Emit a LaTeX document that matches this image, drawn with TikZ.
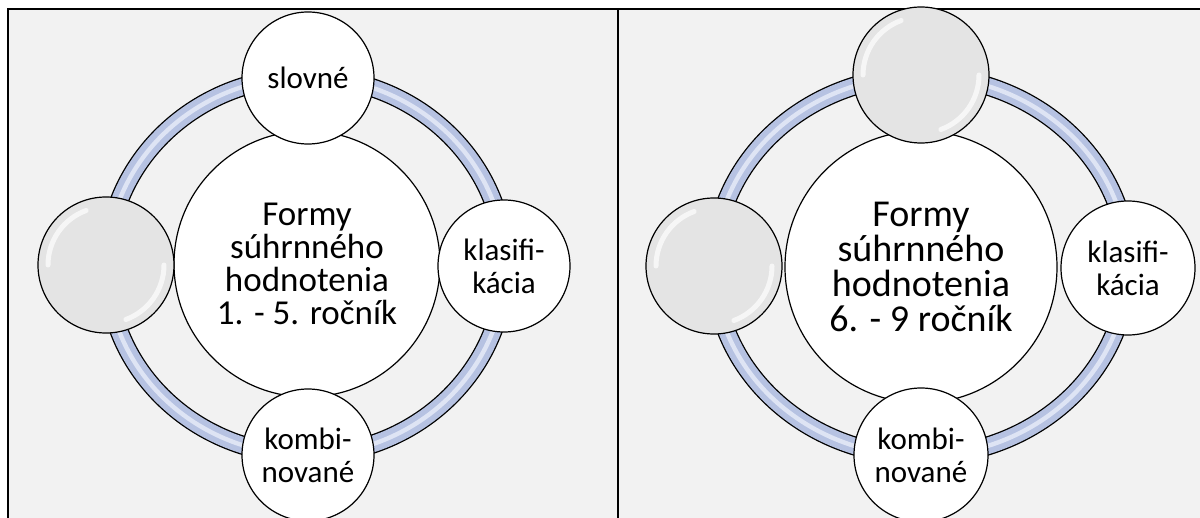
\documentclass[tikz,border=0pt]{standalone}
\usepackage{fontspec}
\setmainfont{Carlito}
\usetikzlibrary{positioning,calc}
\definecolor{panelgray}{RGB}{242,242,242}
\definecolor{ringblue}{RGB}{182,194,226}
\definecolor{ringlight}{RGB}{222,228,244}
\definecolor{glossgray}{RGB}{228,228,228}

\begin{document}
\begin{tikzpicture}[x=0.5pt,y=-0.5pt,
    sat/.style={circle,draw,fill=white,line width=0.6pt,inner sep=0pt,minimum size=66pt,align=center,font=\fontsize{15.5}{16.5}\selectfont},
    hub/.style={circle,draw,fill=white,line width=0.6pt,inner sep=0pt,align=center},
    blank/.style={sat,fill=glossgray},
    gloss/.style={white,line width=2.5pt,line cap=round,opacity=.7}]
  \useasboundingbox (0,0) rectangle (1200,518);
  \fill[panelgray] (8,9) rectangle (1200,518);
  \draw[line width=1.3pt] (8,518) -- (8,9) -- (1200,9);
  \draw[line width=1.3pt] (618,9) -- (618,518);
  %%% left panel
  \coordinate (lc) at (306,266);
  \draw[line width=9.5pt] (lc) ellipse [x radius=199,y radius=189];
  \draw[ringblue,line width=8.2pt] (lc) ellipse [x radius=199,y radius=189];
  \draw[ringlight,line width=2.2pt] (lc) ellipse [x radius=199,y radius=189];
  \node[hub,minimum size=133pt,font=\fontsize{17.5}{16.5}\selectfont] (lhub) at (307,264) {Formy\\súhrnného\\hodnotenia\\1. - 5. ročník};
  \node[sat] (l_top) at (308,78) {slovné};
  \node[sat] (l_right) at (504,266) {klasifi-\\kácia};
  \node[sat] (l_bottom) at (308,455) {kombi-\\nované};
  \node[blank,minimum size=68pt] (l_left) at (106,265) {};
  %%% right panel
  \coordinate (rc) at (921,266);
  \draw[line width=9.5pt] (rc) ellipse [x radius=207,y radius=190];
  \draw[ringblue,line width=8.2pt] (rc) ellipse [x radius=207,y radius=190];
  \draw[ringlight,line width=2.2pt] (rc) ellipse [x radius=207,y radius=190];
  \node[hub,minimum size=136pt,font=\fontsize{19}{17.5}\selectfont] (rhub) at (921,267) {Formy\\súhrnného\\hodnotenia\\6. - 9 ročník};
  \node[blank,minimum size=68pt] (r_top) at (921,75) {};
  \node[sat,minimum size=67pt] (r_right) at (1128,268) {klasifi-\\kácia};
  \node[sat,minimum size=67pt] (r_bottom) at (921,455) {kombi-\\nované};
  \node[blank,minimum size=68pt] (r_left) at (714,266) {};
  % highlights on the empty circles
  \foreach \b in {l_left,r_top,r_left}{
    \draw[gloss] (\b.center) ++(110:29pt) arc[start angle=110,end angle=180,radius=29pt];
    \draw[gloss] (\b.center) ++(-70:29pt) arc[start angle=-70,end angle=0,radius=29pt];
  }
\end{tikzpicture}
\end{document}
